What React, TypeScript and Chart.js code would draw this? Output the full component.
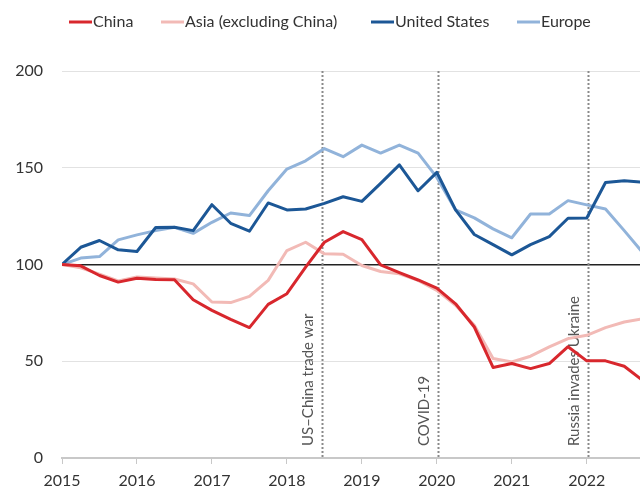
import React, { useEffect, useRef } from "react";
import { Chart, registerables } from "chart.js";

Chart.register(...registerables);

const quarters = [
  2015, 2015.25, 2015.5, 2015.75, 2016, 2016.25, 2016.5, 2016.75,
  2017, 2017.25, 2017.5, 2017.75, 2018, 2018.25, 2018.5, 2018.75,
  2019, 2019.25, 2019.5, 2019.75, 2020, 2020.25, 2020.5, 2020.75,
  2021, 2021.25, 2021.5, 2021.75, 2022, 2022.25, 2022.5, 2022.75,
];

const china = [
  100, 99.3, 94.3, 90.9, 92.9, 92.3, 92.1, 81.8,
  76.3, 71.6, 67.4, 79.4, 84.9, 98.6, 111.5, 117,
  112.9, 99.8, 95.8, 92, 87.8, 79.7, 67.7, 46.8,
  48.8, 46.2, 48.8, 57.5, 50.2, 50.2, 47.4, 40,
];

const asiaExChina = [
  100, 98.3, 95, 91.5, 93.5, 93, 92.5, 90,
  80.6, 80.3, 83.5, 91.8, 107.2, 111.5, 105.5, 105.3,
  99.5, 96.4, 95.2, 91.8, 86.6, 78.9, 68.6, 51.4,
  49.6, 52.6, 57.4, 61.7, 63.4, 67.4, 70.3, 72,
];

const unitedStates = [
  100, 108.9, 112.4, 107.6, 106.7, 119.1, 119.2, 117.5,
  130.9, 121.3, 117.2, 131.8, 128.2, 128.7, 131.6, 135,
  132.6, 141.9, 151.5, 138.1, 147.6, 128.2, 115.5, 110.3,
  105, 110.3, 114.4, 123.9, 124, 142.4, 143.3, 142.5,
];

const europe = [
  100, 103.3, 104.1, 112.7, 115.3, 117.5, 119.2, 116.1,
  121.8, 126.6, 125.3, 138.1, 149.3, 153.6, 159.9, 155.7,
  161.7, 157.6, 161.7, 157.6, 145, 128.2, 124.1, 118.4,
  113.8, 126.1, 126.1, 133, 130.8, 128.7, 117.5, 106,
];

const seriesNames = ["China", "Asia (excluding China)", "United States", "Europe"];
const seriesColors = ["#d8272d", "#f2bab6", "#1c5796", "#91b3da"];

const eventYears = [2018.47, 2020.02, 2022.02];
const eventLabels = ["US\u2013China trade war", "COVID-19", "Russia invades Ukraine"];

const yTicks = [0, 50, 100, 150, 200];
const xTickYears = [2015, 2016, 2017, 2018, 2019, 2020, 2021, 2022];

const FONT = "Lato, 'Open Sans', sans-serif";

export default function App() {
  const ref = useRef<HTMLCanvasElement | null>(null);

  useEffect(() => {
    document.body.style.margin = "0";
    const canvas = ref.current;
    if (!canvas) return;

    const toPts = (vals: number[]) => quarters.map((q, i) => ({ x: q, y: vals[i] }));
    const seriesData = [china, asiaExChina, unitedStates, europe];
    const legendStarts = [69, 161, 371, 517];

    const legendPlugin = {
      id: "customLegend",
      afterDraw(chart: any) {
        const ctx = chart.ctx;
        ctx.save();
        ctx.font = `16px ${FONT}`;
        ctx.textBaseline = "middle";
        ctx.textAlign = "left";
        const y = 22;
        chart.data.datasets.forEach((ds: any, i: number) => {
          const x = legendStarts[i];
          ctx.strokeStyle = ds.borderColor;
          ctx.lineWidth = 3;
          ctx.beginPath();
          ctx.moveTo(x, y);
          ctx.lineTo(x + 23, y);
          ctx.stroke();
          ctx.fillStyle = "#333";
          ctx.fillText(ds.label, x + 24, y);
        });
        ctx.restore();
      },
    };

    const eventsPlugin = {
      id: "events",
      beforeDatasetsDraw(chart: any) {
        const ctx = chart.ctx;
        const xs = chart.scales.x;
        const area = chart.chartArea;
        ctx.save();
        eventYears.forEach((yr, i) => {
          const px = Math.round(xs.getPixelForValue(yr)) + 0.5;
          ctx.strokeStyle = "#8a8a8a";
          ctx.lineWidth = 2;
          ctx.setLineDash([2, 2]);
          ctx.beginPath();
          ctx.moveTo(px, area.top);
          ctx.lineTo(px, area.bottom);
          ctx.stroke();
          ctx.setLineDash([]);
          ctx.save();
          ctx.translate(px - 10, area.bottom - 12);
          ctx.rotate(-Math.PI / 2);
          ctx.font = `15px ${FONT}`;
          ctx.fillStyle = "#555";
          ctx.textAlign = "left";
          ctx.textBaseline = "alphabetic";
          ctx.fillText(eventLabels[i], 0, 0);
          ctx.restore();
        });
        ctx.restore();
      },
    };

    const chart = new Chart(canvas, {
      type: "line",
      data: {
        datasets: seriesNames.map((name, i) => ({
          label: name,
          data: toPts(seriesData[i]),
          borderColor: seriesColors[i],
          backgroundColor: seriesColors[i],
          borderWidth: 3,
          pointRadius: 0,
          tension: 0,
          borderJoinStyle: "round" as const,
        })),
      },
      options: {
        responsive: false,
        animation: false,
        layout: { padding: { top: 71, right: 0, left: 0, bottom: 0 } },
        plugins: {
          legend: { display: false },
          tooltip: { enabled: false },
        },
        scales: {
          x: {
            type: "linear",
            min: 2015,
            max: 2022.71,
            afterBuildTicks(scale: any) {
              scale.ticks = xTickYears.map((v) => ({ value: v }));
            },
            afterFit(scale: any) {
              scale.height = 33;
            },
            grid: {
              drawOnChartArea: false,
              drawTicks: true,
              tickLength: 6,
              color: "#c8c8c8",
              lineWidth: 1,
            },
            border: { display: true, color: "#c8c8c8", width: 2 },
            ticks: {
              color: "#333",
              font: { family: FONT, size: 16 },
              padding: 7,
              maxRotation: 0,
              autoSkip: false,
              callback: (v: any) => String(v),
            },
          },
          y: {
            min: 0,
            max: 200,
            afterBuildTicks(scale: any) {
              scale.ticks = yTicks.map((v) => ({ value: v }));
            },
            afterFit(scale: any) {
              scale.width = 62;
            },
            border: { display: false },
            grid: {
              drawTicks: false,
              color: (c: any) => (c.tick && c.tick.value === 100 ? "#222" : c.tick && c.tick.value === 0 ? "rgba(0,0,0,0)" : "#e2e2e2"),
              lineWidth: (c: any) => (c.tick && c.tick.value === 100 ? 1.5 : 1),
            },
            ticks: {
              color: "#333",
              font: { family: FONT, size: 16 },
              padding: 19,
            },
          },
        },
      },
      plugins: [legendPlugin, eventsPlugin],
    });

    return () => chart.destroy();
  }, []);

  return (
    <div style={{ width: 640, height: 491 }}>
      <canvas ref={ref} width={640} height={491} />
    </div>
  );
}
